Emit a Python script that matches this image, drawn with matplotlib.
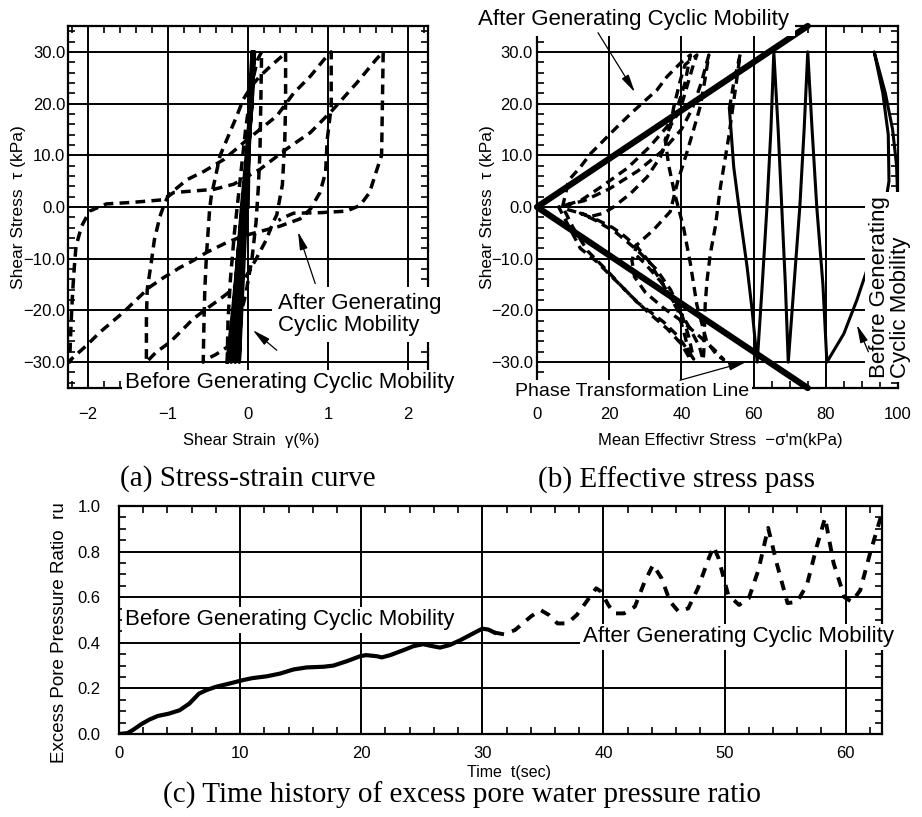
import matplotlib
matplotlib.use("Agg")
import matplotlib.pyplot as plt

plt.rcParams['font.family'] = ['Liberation Sans', 'DejaVu Sans']

W, H = 922, 817

# ---- (a) stress-strain curve : strain (%) / shear stress (kPa)
a_before_x = [0.00, 0.01, 0.03, 0.05, 0.03, 0.00, -0.03, -0.06, -0.09, -0.11,
              -0.08, -0.05, -0.02, 0.01, 0.04, 0.06, 0.04, 0.00, -0.04, -0.08, -0.12, -0.16,
              -0.13, -0.09, -0.05, -0.01, 0.03, 0.07, 0.05, 0.00, -0.05, -0.10, -0.15, -0.21,
              -0.18, -0.13, -0.08, -0.02, 0.03, 0.08, 0.05, -0.01, -0.07, -0.13, -0.19, -0.24, -0.26]
a_before_y = [0, 10, 20, 30, 20, 10, 0, -10, -20, -30,
              -20, -10, 0, 10, 20, 30, 20, 10, 0, -10, -20, -30,
              -20, -10, 0, 10, 20, 30, 20, 10, 0, -10, -20, -30,
              -20, -10, 0, 10, 20, 30, 20, 10, 0, -10, -20, -27, -30]

a_after_x = [-0.26, -0.25, -0.22, -0.17, -0.10, -0.03, 0.05, 0.12, 0.17,
             0.16, 0.15, 0.13, 0.10, 0.05, -0.03, -0.13, -0.25, -0.40, -0.50, -0.56,
             -0.55, -0.54, -0.52, -0.50, -0.48, -0.46, -0.35, -0.14, -0.06, 0.05, 0.15, 0.30, 0.45, 0.47,
             0.47, 0.46, 0.43, 0.36, 0.31, 0.23, 0.10, -0.02, -0.19, -0.35, -0.52, -0.69, -0.81, -0.98, -1.15, -1.27,
             -1.27, -1.26, -1.21, -1.17, -1.10, -1.04, -0.99, -0.76, -0.55, -0.30, -0.05, 0.15, 0.36, 0.57, 0.78, 0.95, 1.04,
             1.04, 0.99, 0.97, 0.90, 0.78, 0.65, 0.40, 0.23, -0.06, -0.27, -0.52, -0.69, -0.85, -1.06, -1.23, -1.40,
             -1.56, -1.85, -2.02, -2.20, -2.23,
             -2.21, -2.19, -2.17, -2.15, -2.08, -1.98, -1.77, -1.44, -1.06, -0.93, -0.43, -0.18, 0.15, 0.48, 0.78,
             1.06, 1.36, 1.60, 1.69,
             1.68, 1.67, 1.60, 1.52, 1.40, 1.23, 0.90, 0.57, 0.45, 0.38]
a_after_y = [-30, -22, -14, -5, 5, 15, 24, 28.5, 30,
             20, 11, 4, -3, -10, -17, -23, -27, -28.5, -29.3, -30,
             -22, -16, -9.5, -5, -0.5, 2, 9.9, 17.6, 20.8, 23.5, 25.3, 27.5, 29.5, 30,
             20, 13, 4.3, -1.5, -3.1, -6.3, -10.1, -13.3, -15.9, -17.8, -19.7, -21.7, -23.6, -26.2, -28.1, -30,
             -22, -16, -10.8, -6.3, -1.8, 0.8, 2.4, 5.3, 6.9, 9.2, 12.5, 15, 17.6, 22, 25.3, 28.5, 30,
             19.4, 13, 6.7, 2.8, -0.4, -2.3, -3.7, -4.4, -5.6, -6.9, -8.8, -10.4, -11.7, -13.7, -15.5, -18,
             -20.4, -24.2, -26.8, -29.3, -30,
             -22, -15.9, -11.4, -7.6, -3.7, -0.8, 0.6, 0.9, 1.4, 2.8, 3.4, 4.4, 7.3, 11.2, 14.4,
             18.8, 24, 28.5, 30,
             20, 10, 6.7, 2.8, 0.3, -0.8, -1.1, -1.2, -2.0, -2.6]

a_xticks = [-2, -1, 0, 1, 2]
a_xlabels = ["\u22122", "\u22121", "0", "1", "2"]
ab_yticks = [-30, -20, -10, 0, 10, 20, 30]
ab_ylabels = ["\u221230.0", "\u221220.0", "\u221210.0", "0.0", "10.0", "20.0", "30.0"]

# ---- (b) effective stress path : mean effective stress (kPa) / shear stress (kPa)
b_before_x = [100, 99.6, 98.5, 96.5, 93.4, 95.8, 97.3, 97.5, 95.5, 92.3, 88.6, 85.0, 80.3,
              79.2, 77.5, 76.2, 75.0, 74.0, 72.8, 71.2, 69.6,
              68.8, 67.8, 66.8, 65.6, 64.8, 63.7, 62.4, 61.0,
              59.6, 58.2, 56.3, 54.5, 53.3]
b_before_y = [0, 8, 15, 22, 30, 22, 14, 5, -4, -10.3, -18, -24.5, -30,
              -15, 0, 15, 30, 15, 0, -15, -30,
              -15, 0, 15, 30, 15, 0, -15, -30,
              -20, -11.6, -2, 7.7, 19]

b_after_x = [53.3, 54.5, 56.3,
             55.2, 54.0, 53.1, 50.8, 49.4, 48.0, 47.1, 46.6, 46.4, 46.2, 46.0,
             45.0, 42.0, 38.0, 34.0, 31.0, 27.7, 24.0, 21.0, 17.0, 12.0, 7.0,
             8.8, 12.0, 14.8, 18.5, 22.2, 25.9, 29.5, 33.2, 36.0, 39.7, 42.5,
             41.0, 39.0, 36.0, 31.0, 25.0, 18.0, 12.0, 6.0,
             12.0, 16.6, 20.3, 24.0, 27.7, 31.4, 35.0, 38.8, 41.5, 43.4,
             42.0, 40.0, 37.0, 33.0, 28.0, 22.0, 16.0, 12.0,
             15.0, 18.5, 21.2, 25.9, 30.5, 34.2, 36.5, 37.9, 39.7, 41.0, 44.3,
             43.4, 41.5, 39.7, 36.9, 35.5, 36.5, 38.0, 40.6, 42.5, 44.3, 47.0, 50.0, 51.7,
             49.0, 45.0, 40.0, 35.0, 30.0, 27.0, 26.3,
             27.7, 32.3, 36.9, 39.0, 41.5, 43.4, 45.2, 46.5, 47.6,
             45.5, 43.0, 40.0, 35.0, 28.0, 20.0, 13.0, 7.0,
             10.0, 14.0, 19.0, 25.0, 31.0, 36.0, 40.0, 42.5,
             41.0, 39.0, 35.0, 30.0, 27.0]
b_after_y = [19, 24, 29.6,
             24, 18, 13.5, 3.8, -3.8, -9.1, -14.2, -18.7, -23.2, -28.3, -29.6,
             -27, -23, -18.5, -14, -10.5, -7.7, -5.5, -4, -2.6, -1.2, -0.2,
             5.2, 7.7, 10.3, 12.9, 15.5, 18, 20.3, 22.6, 25.2, 27.8, 29.4,
             24, 19.5, 15.5, 11.5, 7.5, 4, 1.2, 0,
             -8, -10.6, -13.2, -15.7, -18.4, -20.3, -22.2, -24.8, -27.4, -29.4,
             -25, -20.5, -16, -12, -8.5, -5, -2.5, -1.2,
             -1.8, -1.2, 0, 2.6, 5.8, 9.7, 14.2, 19.4, 24.5, 27.5, 29.4,
             27.7, 23.2, 18.9, 15.6, 13, 8, 3, -4, -11, -19, -26, -28.8, -29.5,
             -27.5, -25, -22, -19.5, -16.5, -13.5, -10.3,
             -7.3, -4.4, -0.9, 5, 10.5, 15, 19.4, 24.5, 29.4,
             24, 19, 15, 11, 7, 3.5, 1.2, 0.2,
             -4, -8.5, -12, -16.5, -20.5, -23.5, -26.5, -29.5,
             -25, -20, -15, -11, -9]

ptl_x = [75, 0, 75]
ptl_y = [35, 0, -35]

b_xticks = [0, 20, 40, 60, 80, 100]
b_xlabels = ["0", "20", "40", "60", "80", "100"]

# ---- (c) excess pore pressure ratio time history
c_before_t = [0, 0.7, 1.1, 1.9, 2.5, 3.2, 4.1, 5.0, 5.8, 6.6, 7.2, 8.0, 9.1, 10.2, 11.0, 12.2,
              13.3, 14.4, 15.5, 16.9, 17.7, 18.8, 19.9, 20.4, 21.3, 21.7, 22.4, 23.5, 24.3,
              25.1, 25.9, 26.5, 27.3, 28.2, 29.2, 30.0, 30.5, 31.0]
c_before_ru = [0, 0.004, 0.016, 0.045, 0.063, 0.079, 0.089, 0.104, 0.133, 0.177, 0.192, 0.207,
               0.221, 0.236, 0.245, 0.253, 0.265, 0.283, 0.292, 0.295, 0.300, 0.319, 0.341,
               0.346, 0.341, 0.336, 0.346, 0.368, 0.385, 0.394, 0.385, 0.379, 0.390, 0.412,
               0.440, 0.462, 0.458, 0.445]
c_after_t = [31.0, 31.8, 32.7, 34.0, 34.8, 35.5, 36.2, 37.0, 37.8, 38.7, 39.4, 39.8, 40.4, 40.9,
             41.7, 42.6, 43.4, 44.1, 44.8, 45.5, 46.2, 47.0, 47.8, 48.7, 49.1, 49.5, 50.3,
             51.2, 52.0, 52.8, 53.6, 54.3, 55.2, 56.0, 56.8, 57.6, 58.3, 59.0, 59.9, 60.5,
             61.2, 62.0, 62.5, 63.0]
c_after_ru = [0.445, 0.437, 0.456, 0.515, 0.544, 0.522, 0.485, 0.485, 0.522, 0.588, 0.639,
              0.625, 0.566, 0.529, 0.529, 0.559, 0.668, 0.742, 0.683, 0.581, 0.537, 0.551,
              0.639, 0.771, 0.822, 0.771, 0.610, 0.566, 0.595, 0.720, 0.904, 0.750, 0.574,
              0.580, 0.654, 0.820, 0.948, 0.750, 0.600, 0.580, 0.630, 0.790, 0.880, 0.970]

c_xticks = [0, 10, 20, 30, 40, 50, 60]
c_xlabels = ["0", "10", "20", "30", "40", "50", "60"]
c_yticks = [0.0, 0.2, 0.4, 0.6, 0.8, 1.0]
c_ylabels = ["0.0", "0.2", "0.4", "0.6", "0.8", "1.0"]


def rect(x0, y0, x1, y1):
    # pixel box -> figure fraction
    return [x0 / W, 1 - y1 / H, (x1 - x0) / W, (y1 - y0) / H]


def ftext(px, py, s, **kw):
    fig.text(px / W, 1 - py / H, s, **kw)


def style(ax, xt, xl, xminor, yt, yl, yminor, xpad, ypad):
    ax.set_xticks(xt)
    ax.set_xticklabels(xl)
    ax.set_xticks(xminor, minor=True)
    ax.set_yticks(yt)
    ax.set_yticklabels(yl)
    ax.set_yticks(yminor, minor=True)
    ax.grid(True, which='major', color='black', lw=1.4)
    ax.tick_params(which='both', direction='in', top=True, right=True, width=1.2, labelsize=12)
    ax.tick_params(which='minor', length=5)
    ax.tick_params(which='major', length=0)
    ax.tick_params(axis='x', pad=xpad)
    ax.tick_params(axis='y', pad=ypad)
    for s in ax.spines.values():
        s.set_linewidth(1.6)


bbox_w = dict(facecolor='white', edgecolor='none', pad=2)
arrow = dict(arrowstyle='-|>,head_length=0.9,head_width=0.2', color='black', lw=0.9,
             mutation_scale=12, shrinkA=0, shrinkB=0)
dash = (0, (2.8, 1.8))

fig = plt.figure(figsize=(W / 100, H / 100), dpi=100)

# (a)
ax = fig.add_axes(rect(68, 26, 428, 388))
ax.plot(a_before_x, a_before_y, color='black', lw=2.6)
ax.plot(a_after_x, a_after_y, color='black', lw=2.5, linestyle=dash)
ax.set_xlim(-2.25, 2.25)
ax.set_ylim(-35, 35)
style(ax, a_xticks, a_xlabels, [v / 5 for v in range(-11, 12) if v % 5],
      ab_yticks, ab_ylabels, [v for v in range(-34, 35, 2) if v % 10], 14, 2)
ax.text(-1.54, -34.0, "Before Generating Cyclic Mobility", fontsize=16, ha='left', va='center',
        bbox=bbox_w, zorder=10, clip_on=False)
ax.text(0.375, -20.8, "After Generating\nCyclic Mobility", fontsize=16, ha='left', va='center',
        linespacing=1.1, bbox=dict(facecolor='white', edgecolor='none', pad=4), zorder=10, clip_on=False)
ax.annotate("", xy=(0.625, -4.8), xytext=(0.84, -14.8), arrowprops=arrow, zorder=11)
ax.annotate("", xy=(0.06, -23.8), xytext=(0.36, -27.7), arrowprops=arrow, zorder=11)

# (b)
ax = fig.add_axes(rect(537, 26, 898, 388))
ax.plot(b_before_x, b_before_y, color='black', lw=2.2)
ax.plot(b_after_x, b_after_y, color='black', lw=2.4, linestyle=dash)
ax.plot(ptl_x, ptl_y, color='black', lw=4.5, solid_capstyle='round', clip_on=False, zorder=4)
ax.set_xlim(0, 100)
ax.set_ylim(-35, 35)
style(ax, b_xticks, b_xlabels, [v for v in range(5, 100, 5) if v % 20],
      ab_yticks, ab_ylabels, [v for v in range(-34, 35, 2) if v % 10], 14, 3)
ax.text(-16.3, 36.2, "After Generating Cyclic Mobility", fontsize=16, ha='left', va='center',
        bbox=dict(facecolor='white', edgecolor='none', pad=4), zorder=10, clip_on=False)
ax.text(-6.1, -35.6, "Phase Transformation Line", fontsize=14, ha='left', va='center',
        bbox=bbox_w, zorder=10, clip_on=False)
ax.text(97.8, -15.5, "Before Generating\nCyclic Mobility", fontsize=16, rotation=90,
        ha='center', va='center', multialignment='left', linespacing=1.0,
        bbox=dict(facecolor='white', edgecolor='none', pad=3), zorder=10, clip_on=False)
ax.annotate("", xy=(27.1, 22.2), xytext=(16.9, 33.7), arrowprops=arrow, zorder=11)
ax.annotate("", xy=(58.1, -29.9), xytext=(39.6, -33.5), arrowprops=arrow, zorder=11,
            annotation_clip=False)
ax.annotate("", xy=(88.6, -22.8), xytext=(91.8, -28.0), arrowprops=arrow, zorder=11)

# (c)
ax = fig.add_axes(rect(119, 506, 882, 734))
ax.plot(c_before_t, c_before_ru, color='black', lw=3.0)
ax.plot(c_after_t, c_after_ru, color='black', lw=2.8, linestyle=(0, (2.5, 2.2)))
ax.set_xlim(0, 63)
ax.set_ylim(0, 1.0)
style(ax, c_xticks, c_xlabels, [v for v in range(2, 63, 2) if v % 10],
      c_yticks, c_ylabels, [v / 20 for v in range(1, 20) if v % 4], 9, 13.5)
ax.text(0.5, 0.50, "Before Generating Cyclic Mobility", fontsize=16, ha='left', va='center',
        bbox=bbox_w, zorder=10, clip_on=False)
ax.text(38.3, 0.426, "After Generating Cyclic Mobility", fontsize=16, ha='left', va='center',
        bbox=bbox_w, zorder=10, clip_on=False)

# axis labels and captions
ftext(251, 440, "Shear Strain  \u03b3(%)", fontsize=12, ha='center', va='center')
ftext(720, 440, "Mean Effectivr Stress  \u2212\u03c3'm(kPa)", fontsize=12, ha='center', va='center')
ftext(18, 207, "Shear Stress  \u03c4 (kPa)", fontsize=12.5, ha='center', va='center', rotation=90)
ftext(487, 207, "Shear Stress  \u03c4 (kPa)", fontsize=12.5, ha='center', va='center', rotation=90)
ftext(60, 633, "Excess Pore Pressure Ratio  ru", fontsize=13.5, ha='center', va='center', rotation=90)
ftext(509, 773, "Time  t(sec)", fontsize=11.5, ha='center', va='center')

serif = ['Liberation Serif', 'DejaVu Serif']
ftext(248, 479, "(a) Stress-strain curve", fontsize=21, family=serif, ha='center', va='center')
ftext(677, 480, "(b) Effective stress pass", fontsize=21, family=serif, ha='center', va='center')
ftext(462, 795, "(c) Time history of excess pore water pressure ratio", fontsize=21, family=serif,
      ha='center', va='center')

fig.savefig("out.png", dpi=100)
